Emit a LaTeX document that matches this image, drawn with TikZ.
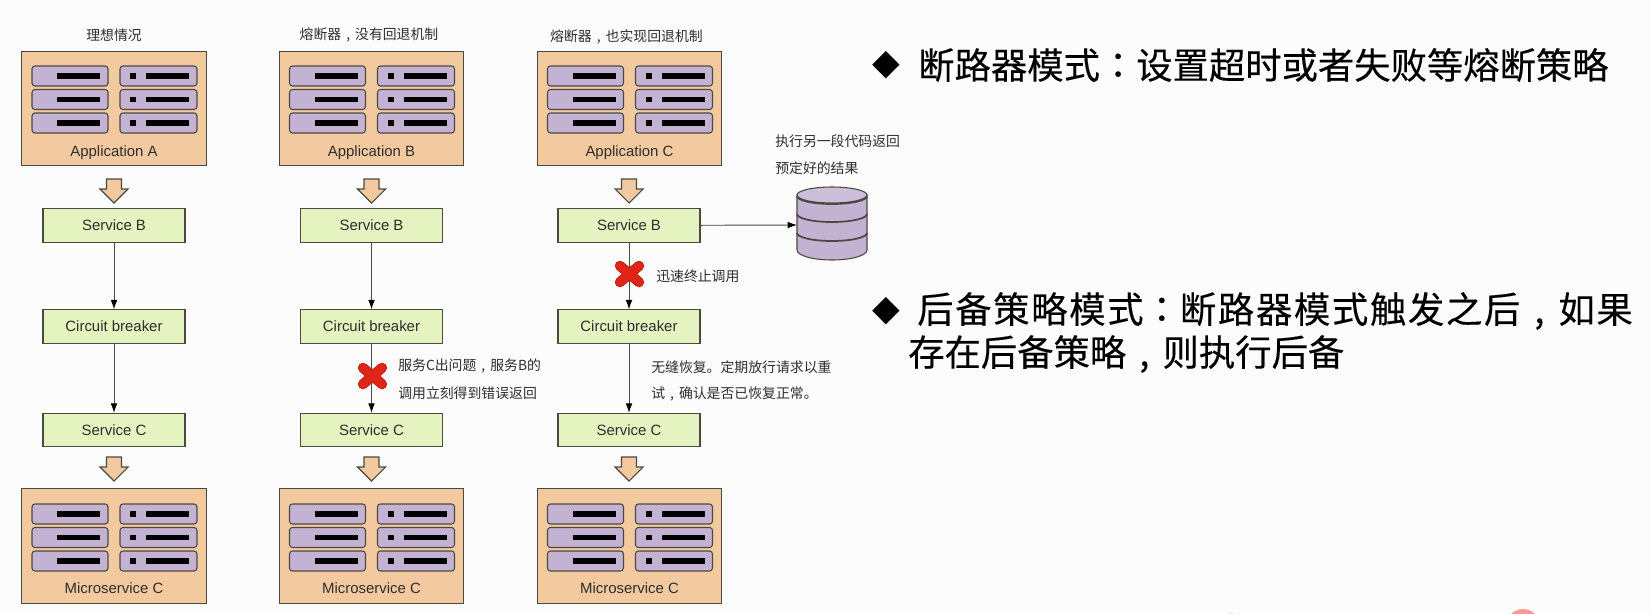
\documentclass[tikz,border=0pt]{standalone}
\usepackage{fontspec}
\setmainfont{Liberation Sans}
\newfontfamily\cjk{Noto Sans CJK SC}
\newfontfamily\cjkbig[FakeBold=0.25]{Noto Sans CJK SC}
\newfontfamily\cjkbigw[FakeBold=0.25,LetterSpace=4.6]{Noto Sans CJK SC}
\newfontfamily\cjkpbig[FakeBold=0.25]{Noto Sans CJK TC}
\newfontfamily\symf{DejaVu Sans}
\newcommand{\cm}{\makebox[1em][c]{,}}
\newcommand{\cln}{{\cjkpbig ：}}
\usetikzlibrary{arrows.meta}
\definecolor{appfill}{HTML}{F3C9A0}
\definecolor{pill}{HTML}{C4B2D2}
\definecolor{svcfill}{HTML}{E4F3BF}
\definecolor{edge}{HTML}{4A4A40}
\definecolor{txt}{HTML}{2E2E2E}
\definecolor{xred}{HTML}{E02418}
\tikzset{
 appbox/.style={draw=edge,line width=0.8pt,fill=appfill,minimum width=138.5pt,minimum height=86pt,inner sep=0pt},
 svcbox/.style={draw=edge,line width=0.8pt,fill=svcfill,minimum width=106.5pt,minimum height=25pt,inner sep=0pt,font=\fontsize{11.2pt}{13pt}\selectfont,text=txt},
 pillbox/.style={draw=edge,line width=0.8pt,fill=pill,rounded corners=2.2pt},
 hollow/.style={draw=edge,line width=0.8pt,fill=appfill},
 link/.style={draw=edge,line width=0.7pt,-{Latex[length=7pt,width=5pt,black]}},
 lab/.style={font=\fontsize{10.4pt}{12pt}\cjk,text=txt,anchor=west,inner sep=0pt},
 ttl/.style={font=\fontsize{10.4pt}{12pt}\cjk,text=txt,inner sep=0pt},
 big/.style={font=\fontsize{27.25pt}{32pt}\cjkbig,text=black,anchor=west,inner sep=0pt},
 apptext/.style={font=\fontsize{11.2pt}{13pt}\selectfont,text=txt,inner sep=0pt},
 dbline/.style={draw=edge,line width=1.3pt}
}
\newcommand{\rack}[2]{%
 \begin{scope}[shift={(#1,#2)}]
  \foreach \yy in {15,38.5,62}{
   \draw[pillbox] (-82,\yy) rectangle (-6,\yy+20);
   \draw[pillbox] (6,\yy) rectangle (83,\yy+20);
   \fill[black] (-57,\yy+7.4) rectangle (-14,\yy+12.6);
   \fill[black] (16,\yy+7.2) rectangle (22,\yy+12.8);
   \fill[black] (32,\yy+7.4) rectangle (75,\yy+12.6);
  }
 \end{scope}}
\newcommand{\hollowdown}[2]{%
 \draw[hollow,shift={(#1,#2)}] (-7.5,0) -- (7.5,0) -- (7.5,10) -- (14,10) -- (0,24) -- (-14,10) -- (-7.5,10) -- cycle;}
\newcommand{\redx}[2]{%
 \begin{scope}[shift={(#1,#2)},line cap=round]
  \draw[xred!75!black,line width=7.6pt] (-9.6,-8.2) -- (9.6,8.2) (-9.6,8.2) -- (9.6,-8.2);
  \draw[xred,line width=6.6pt] (-9.6,-8.2) -- (9.6,8.2) (-9.6,8.2) -- (9.6,-8.2);
 \end{scope}}
\begin{document}
\begin{tikzpicture}[x=0.75pt,y=-0.75pt]
\useasboundingbox (0,0) rectangle (1650,614);
\fill[white!99!black] (0,0) rectangle (1650,614);
\begin{scope}
 \clip (0,0) rectangle (1650,614);
 \fill[red!40!white] (1523,626) circle (17);
 \fill[red!15!white] (1231,621) circle (8);
\end{scope}
% ---- column 1
\node[appbox] (a1) at (114,108.5) {};
\rack{114}{51}
\node[apptext] (a1t) at (114,152.5) {Application A};
\node[svcbox] (b1) at (114,225.5) {Service B};
\node[svcbox] (c1) at (114,326.5) {Circuit breaker};
\node[svcbox] (s1) at (114,430) {Service C};
\node[appbox] (m1) at (114,546) {};
\rack{114}{489}
\node[apptext] (m1t) at (114,588) {Microservice C};
\hollowdown{114}{179}
\hollowdown{114}{457}
\draw[link] (b1) -- (c1);
\draw[link] (c1) -- (s1);
\node[ttl] (t1) at (114,35) {理想情况};
% ---- column 2
\node[appbox] (a2) at (371.5,108.5) {};
\rack{371.5}{51}
\node[apptext] (a2t) at (371.5,152.5) {Application B};
\node[svcbox] (b2) at (371.5,225.5) {Service B};
\node[svcbox] (c2) at (371.5,326.5) {Circuit breaker};
\node[svcbox] (s2) at (371.5,430) {Service C};
\node[appbox] (m2) at (371.5,546) {};
\rack{371.5}{489}
\node[apptext] (m2t) at (371.5,588) {Microservice C};
\hollowdown{371.5}{179}
\hollowdown{371.5}{457}
\draw[link] (b2) -- (c2);
\draw[link] (c2) -- (s2);
\redx{372.5}{376}
\node[ttl] (t2) at (369,35) {熔断器\cm 没有回退机制};
\node[lab] (n2a) at (398,366) {服务C出问题\cm 服务B的};
\node[lab] (n2b) at (398,393) {调用立刻得到错误返回};
% ---- column 3
\node[appbox] (a3) at (629.5,108.5) {};
\rack{629.5}{51}
\node[apptext] (a3t) at (629.5,152.5) {Application C};
\node[svcbox] (b3) at (629,225.5) {Service B};
\node[svcbox] (c3) at (629,326.5) {Circuit breaker};
\node[svcbox] (s3) at (629,430) {Service C};
\node[appbox] (m3) at (629.5,546) {};
\rack{629.5}{489}
\node[apptext] (m3t) at (629.5,588) {Microservice C};
\hollowdown{629}{179}
\hollowdown{629}{457}
\draw[link] (b3) -- (c3);
\draw[link] (c3) -- (s3);
\redx{629.5}{274}
\node[ttl] (t3) at (626.5,37) {熔断器\cm 也实现回退机制};
\node[lab] (n3) at (656,276) {迅速终止调用};
\node[lab] (n3a) at (651,367) {无缝恢复。定期放行请求以重};
\node[lab] (n3b) at (651,394) {试\cm 确认是否已恢复正常。};
\node[lab] (n3c) at (775,141) {执行另一段代码返回};
\node[lab] (n3d) at (775,168) {预定好的结果};
% database
\coordinate (db) at (797,225);
\draw[draw=edge,line width=0.8pt,fill=pill] (797,195) -- (797,250) arc[start angle=180,end angle=0,x radius=35,y radius=10] -- (867,195) -- cycle;
\draw[draw=edge,line width=0.8pt,fill=pill!85!white] (832,195) ellipse (35 and 8);
\draw[dbline] (797,196) arc[start angle=180,end angle=0,x radius=35,y radius=8];
\draw[dbline] (797,214) arc[start angle=180,end angle=0,x radius=35,y radius=8];
\draw[dbline] (797,233) arc[start angle=180,end angle=0,x radius=35,y radius=8];
\draw[link] (b3) -- (db);
% ---- right text
\node[font=\fontsize{27pt}{32pt}\symf,inner sep=0pt] (d1) at (886,65) {◆};
\node[big] (h1) at (918,65) {断路器模式\cln 设置超时或者失败等熔断策略};
\node[font=\fontsize{27pt}{32pt}\symf,inner sep=0pt] (d2) at (886,311) {◆};
\node[big,font=\fontsize{27.25pt}{32pt}\cjkbigw] (h2) at (917,311) {后备策略模式\cln 断路器模式触发之后\makebox[1.05em][c]{,}如果};
\node[big] (h3) at (908,354) {存在后备策略\cm 则执行后备};
\end{tikzpicture}
\end{document}
